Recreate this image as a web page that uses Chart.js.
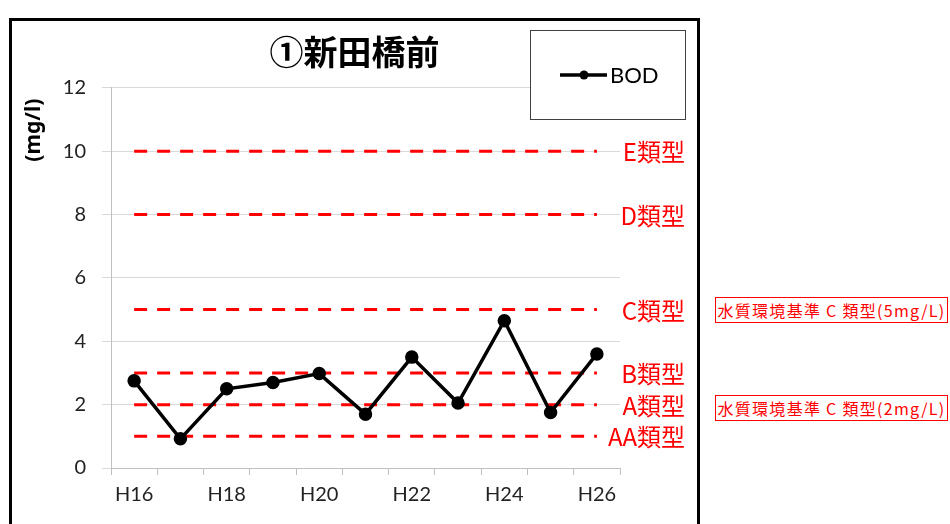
<!DOCTYPE html>
<html>
<head>
<meta charset="utf-8">
<script src="https://cdn.jsdelivr.net/npm/chart.js@4"></script>
<style>
  body { margin: 0; background: #fff; width: 950px; height: 524px; overflow: hidden; position: relative; }
  #frame { position: absolute; left: 9px; top: 18px; width: 685px; height: 520px; border: 3px solid #000; }
  .note { position: absolute; left: 715px; width: 231px; height: 24px; border: 1px solid #ff0000;
          color: #ff0000; font: 16px "Noto Sans CJK JP", sans-serif; line-height: 24px; letter-spacing: 1.3px;
          text-align: center; white-space: nowrap; }
</style>
</head>
<body>
<div id="frame"><canvas id="Chart1" width="685" height="503"></canvas></div>
<div class="note" style="top:297px">水質環境基準 C 類型(5mg/L)</div>
<div class="note" style="top:395px">水質環境基準 C 類型(2mg/L)</div>
<script>
        // data
        var Years = ['H16', 'H17', 'H18', 'H19', 'H20', 'H21', 'H22', 'H23', 'H24', 'H25', 'H26'];
        var Bod = [2.75, 0.92, 2.5, 2.7, 2.98, 1.7, 3.5, 2.05, 4.65, 1.75, 3.6];
        var StdNames = ['E類型', 'D類型', 'C類型', 'B類型', 'A類型', 'AA類型'];
        var StdValues = [10, 8, 5, 3, 2, 1];
        var YTicks = [0, 2, 4, 6, 8, 10, 12];

        var tickFont = { family: 'Lato, "Noto Sans", sans-serif', size: 20 };

        var datasets = [{
            label: 'BOD',
            data: Bod,
            borderColor: '#000',
            backgroundColor: '#000',
            borderWidth: 3.5,
            pointRadius: 5,
            pointHoverRadius: 5,
            tension: 0
        }];

        StdValues.forEach(function(v, i) {
            datasets.push({
                label: StdNames[i],
                data: Years.map(function() { return v; }),
                borderColor: '#ff0000',
                borderWidth: 3,
                borderDash: [13, 10],
                pointRadius: 0,
                tension: 0
            });
        });

        // red labels at the end of each standard line
        var stdLabels = {
            id: 'stdLabels',
            afterDatasetsDraw: function(chart) {
                var ctx = chart.ctx;
                ctx.save();
                ctx.fillStyle = '#ff0000';
                ctx.font = '24px "Noto Sans CJK JP", sans-serif';
                ctx.textAlign = 'right';
                ctx.textBaseline = 'middle';
                for (var i = 1; i < chart.data.datasets.length; i++) {
                    var pts = chart.getDatasetMeta(i).data;
                    var last = pts[pts.length - 1];
                    ctx.fillText(chart.data.datasets[i].label, chart.chartArea.right + 65, last.y + 1);
                }
                ctx.restore();
            }
        };

        // legend box
        var boxLegend = {
            id: 'boxLegend',
            afterDraw: function(chart) {
                var ctx = chart.ctx;
                var ds = chart.data.datasets[0];
                ctx.save();
                ctx.fillStyle = '#fff';
                ctx.fillRect(518, 9, 155, 89);
                ctx.strokeStyle = '#404040';
                ctx.lineWidth = 1;
                ctx.strokeRect(518.5, 9.5, 155, 89);
                ctx.strokeStyle = ds.borderColor;
                ctx.lineWidth = ds.borderWidth;
                ctx.beginPath();
                ctx.moveTo(548, 54);
                ctx.lineTo(595, 54);
                ctx.stroke();
                ctx.fillStyle = ds.backgroundColor;
                ctx.beginPath();
                ctx.arc(572, 54, 4.5, 0, Math.PI * 2);
                ctx.fill();
                ctx.font = '22px Lato, "Noto Sans", sans-serif';
                ctx.textBaseline = 'middle';
                ctx.fillText(ds.label, 598, 55);
                ctx.restore();
            }
        };

        var lineChart1 = new Chart("Chart1", {
            type: "line",
            data: {
                labels: Years,
                datasets: datasets
            },
            options: {
                responsive: false,
                animation: false,
                layout: { padding: 0 },
                plugins: {
                    legend: { display: false },
                    tooltip: { enabled: false },
                    title: {
                        display: true,
                        text: '①新田橋前',
                        color: '#000',
                        font: { family: '"Noto Sans CJK JP", sans-serif', size: 34, weight: 'bold' },
                        padding: { top: 11, bottom: 15 }
                    }
                },
                scales: {
                    x: {
                        offset: true,
                        grid: { offset: true, drawOnChartArea: false, tickLength: 7, color: '#bfbfbf' },
                        border: { color: '#bfbfbf' },
                        ticks: {
                            autoSkip: false,
                            maxRotation: 0,
                            padding: 8,
                            color: '#222',
                            font: tickFont,
                            callback: function(v, i) { return i % 2 === 0 ? this.getLabelForValue(v) : ''; }
                        },
                        afterFit: function(scale) { scale.height = 56; }
                    },
                    y: {
                        min: 0,
                        max: 12,
                        afterBuildTicks: function(scale) {
                            scale.ticks = YTicks.map(function(v) { return { value: v }; });
                        },
                        grid: { color: '#d9d9d9', tickLength: 9, lineWidth: 1 },
                        border: { color: '#bfbfbf' },
                        ticks: { padding: 16, color: '#222', font: tickFont },
                        title: {
                            display: true,
                            text: '(mg/l)  ',
                            align: 'end',
                            color: '#000',
                            font: { family: '"Noto Sans", sans-serif', size: 21, weight: 'bold' },
                            padding: { top: 9, bottom: 0 }
                        },
                        afterFit: function(scale) { scale.width = 99; }
                    },
                    // empty right axis keeps room for the red labels
                    y2: {
                        position: 'right',
                        min: 0,
                        max: 12,
                        grid: { drawOnChartArea: false, drawTicks: false },
                        border: { display: false },
                        ticks: { display: false },
                        afterFit: function(scale) { scale.width = 77; }
                    }
                }
            },
            plugins: [stdLabels, boxLegend]
        });
</script>
</body>
</html>
